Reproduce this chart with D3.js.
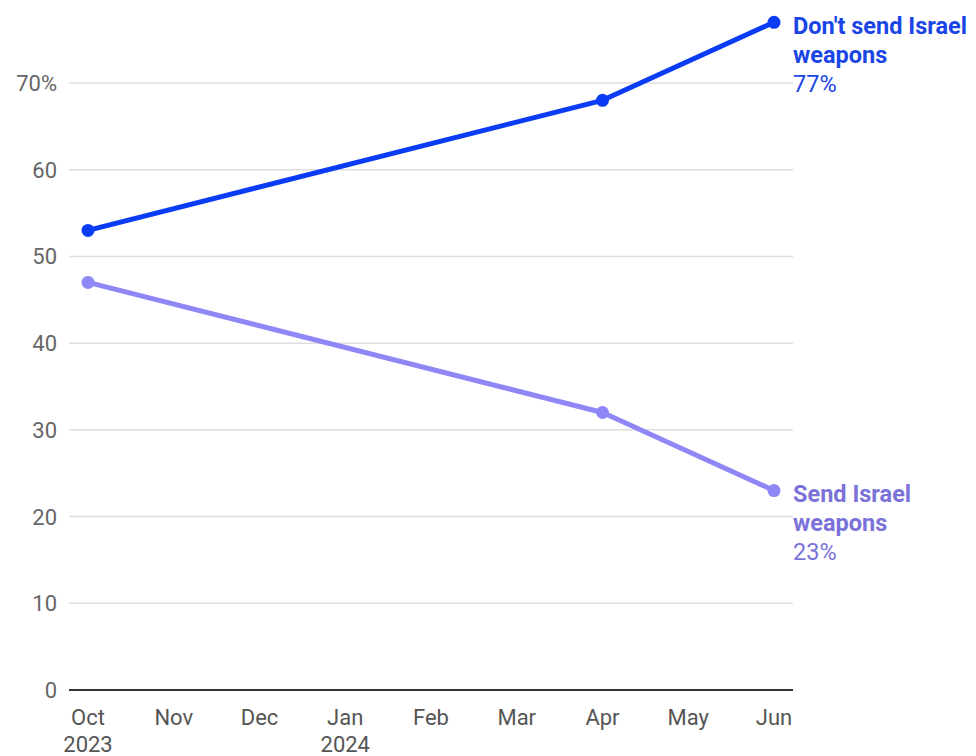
<!DOCTYPE html>
<html><head><meta charset="utf-8">
<script src="https://cdn.jsdelivr.net/npm/d3@7"></script>
<style>body{margin:0;background:#fff;font-family:Roboto,"Noto Sans",sans-serif;}</style>
</head><body><svg id="c" width="976" height="756"></svg>
<script>
const months = ["Oct","Nov","Dec","Jan","Feb","Mar","Apr","May","Jun"];
const years = ["2023","","","2024","","","","",""];
const dontSendIdx = [0, 6, 8];
const dontSendVals = [53, 68, 77];
const sendIdx = [0, 6, 8];
const sendVals = [47, 32, 23];
const yTicks = [0,10,20,30,40,50,60,70];

const svg = d3.select("#c");
const x = d3.scaleLinear().domain([0,8]).range([88,774]);
const y = d3.scaleLinear().domain([0,70]).range([690,83]);
const gridL = 69, gridR = 793;

svg.selectAll(".g").data(yTicks.filter(d=>d>0)).enter().append("line")
  .attr("x1",gridL).attr("x2",gridR).attr("y1",d=>y(d)).attr("y2",d=>y(d))
  .attr("stroke","#dedede").attr("stroke-width",1.5);
svg.append("line").attr("x1",gridL).attr("x2",gridR).attr("y1",y(0)).attr("y2",y(0))
  .attr("stroke","#333").attr("stroke-width",2);

svg.selectAll(".yl").data(yTicks).enter().append("text")
  .attr("x",57).attr("y",d=>y(d)+8).attr("text-anchor","end")
  .attr("font-size",22).attr("fill","#666").text(d=>d===70?"70%":d);

svg.selectAll(".xl").data(months).enter().append("text")
  .attr("x",(d,i)=>x(i)).attr("y",725).attr("text-anchor","middle")
  .attr("font-size",22).attr("fill","#555").text(d=>d);
svg.selectAll(".yr").data(years).enter().append("text")
  .attr("x",(d,i)=>x(i)).attr("y",752).attr("text-anchor","middle")
  .attr("font-size",22).attr("fill","#555").text(d=>d);

function series(idx, vals, color){
  const pts = idx.map((d,i)=>[x(d), y(vals[i])]);
  svg.append("path").attr("d", d3.line()(pts)).attr("fill","none")
    .attr("stroke",color).attr("stroke-width",5).attr("stroke-linejoin","round").attr("stroke-linecap","round");
  svg.selectAll(null).data(pts).enter().append("circle")
    .attr("cx",d=>d[0]).attr("cy",d=>d[1]).attr("r",6.5).attr("fill",color);
}
const blue = "#0b3cf5", purple = "#8f87f5";
series(sendIdx, sendVals, purple);
series(dontSendIdx, dontSendVals, blue);

function label(lines, pct, color, top){
  lines.forEach((l,i)=>{
    svg.append("text").attr("x",793).attr("y",top+i*29).attr("fill",color)
      .attr("font-size",23.5).attr("font-weight","bold").text(l);
  });
  svg.append("text").attr("x",793).attr("y",top+lines.length*29).attr("fill",color)
    .attr("font-size",23.5).text(pct);
}
label(["Don't send Israel","weapons"], dontSendVals[2]+"%", "#1a45e6", 34);
label(["Send Israel","weapons"], sendVals[2]+"%", "#7a72d8", 502);
</script></body></html>
